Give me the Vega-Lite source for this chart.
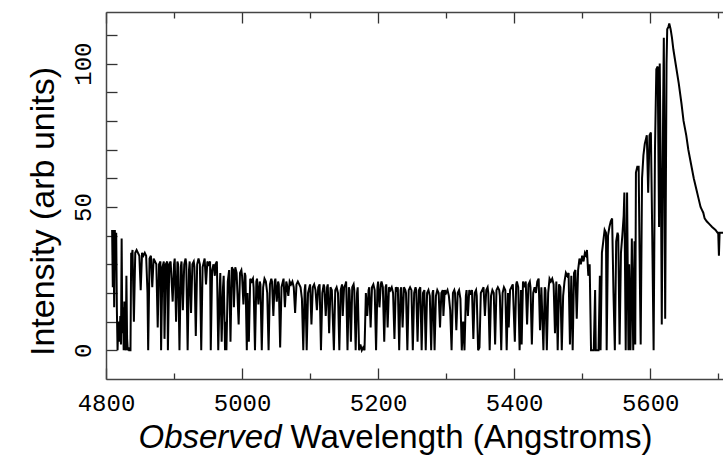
{
  "$schema": "https://vega.github.io/schema/vega-lite/v6.json",
  "width": 617,
  "height": 367,
  "autosize": "none",
  "padding": {"left": 106, "top": 12, "right": 0, "bottom": 76},
  "background": "white",
  "config": {"view": {"stroke": null}},
  "resolve": {"axis": {"x": "independent"}},
  "layer": [
    {
      "data": {"values": [
        {"w":4809,"f":42},{"w":4810,"f":22},{"w":4811,"f":42},{"w":4812,"f":15},{"w":4813,"f":42},{"w":4814,"f":28},{"w":4815,"f":41},{"w":4816,"f":14},{"w":4817,"f":0},{"w":4818,"f":9},{"w":4819,"f":10},{"w":4820,"f":3},{"w":4821,"f":12},{"w":4822,"f":2},{"w":4823,"f":39},{"w":4824,"f":6},{"w":4825,"f":15},{"w":4826,"f":0},{"w":4827,"f":17},{"w":4828,"f":5},{"w":4829,"f":0},{"w":4830,"f":26},{"w":4831,"f":4},{"w":4832,"f":0},{"w":4833,"f":1},{"w":4834,"f":0},{"w":4835,"f":0},{"w":4836,"f":0},{"w":4837,"f":34},
        {"w":4838,"f":33},{"w":4839,"f":35},{"w":4841,"f":10},{"w":4843,"f":34},{"w":4845,"f":35},{"w":4847,"f":34},{"w":4849,"f":33},{"w":4851,"f":21},{"w":4853,"f":34},{"w":4855,"f":33},{"w":4857,"f":34},{"w":4859,"f":33},{"w":4861,"f":20},{"w":4862,"f":0},{"w":4864,"f":32},{"w":4866,"f":33},{"w":4868,"f":22},{"w":4870,"f":32},{"w":4872,"f":31},{"w":4874,"f":30},{"w":4876,"f":8},{"w":4878,"f":30},{"w":4880,"f":31},{"w":4881,"f":0},{"w":4883,"f":29},{"w":4885,"f":31},{"w":4886,"f":4},{"w":4888,"f":30},{"w":4890,"f":31},{"w":4891,"f":0},{"w":4893,"f":30},{"w":4895,"f":31},{"w":4898,"f":17},{"w":4900,"f":30},{"w":4901,"f":32},{"w":4903,"f":10},{"w":4905,"f":31},{"w":4906,"f":30},{"w":4908,"f":0},{"w":4910,"f":29},{"w":4911,"f":31},{"w":4913,"f":14},{"w":4915,"f":30},{"w":4917,"f":32},{"w":4918,"f":30},{"w":4920,"f":0},{"w":4922,"f":28},{"w":4923,"f":31},{"w":4925,"f":13},{"w":4927,"f":30},{"w":4929,"f":31},{"w":4930,"f":29},{"w":4932,"f":5},{"w":4934,"f":30},{"w":4936,"f":32},{"w":4938,"f":30},{"w":4940,"f":0},{"w":4942,"f":29},{"w":4944,"f":31},{"w":4945,"f":32},{"w":4947,"f":23},{"w":4949,"f":31},{"w":4951,"f":30},{"w":4953,"f":31},{"w":4954,"f":0},{"w":4956,"f":28},{"w":4958,"f":30},{"w":4960,"f":26},{"w":4961,"f":30},{"w":4963,"f":31},
        {"w":4965,"f":0},{"w":4967,"f":20},{"w":4968,"f":27},{"w":4970,"f":3},{"w":4972,"f":22},{"w":4973,"f":26},{"w":4975,"f":0},{"w":4976,"f":10},{"w":4977,"f":0},{"w":4979,"f":24},{"w":4981,"f":28},{"w":4983,"f":3},{"w":4985,"f":29},{"w":4987,"f":28},{"w":4988,"f":15},{"w":4990,"f":29},{"w":4992,"f":27},{"w":4995,"f":9},{"w":4997,"f":27},{"w":4999,"f":28},{"w":5000,"f":26},{"w":5002,"f":16},{"w":5004,"f":27},{"w":5005,"f":26},{"w":5007,"f":0},{"w":5008,"f":20},{"w":5010,"f":3},{"w":5012,"f":25},{"w":5014,"f":24},{"w":5016,"f":25},{"w":5017,"f":22},{"w":5019,"f":0},{"w":5021,"f":24},{"w":5022,"f":25},{"w":5024,"f":16},{"w":5026,"f":24},{"w":5027,"f":23},{"w":5029,"f":0},{"w":5031,"f":22},{"w":5033,"f":25},{"w":5035,"f":24},{"w":5037,"f":20},{"w":5039,"f":0},{"w":5041,"f":23},{"w":5043,"f":25},{"w":5044,"f":24},{"w":5046,"f":12},{"w":5048,"f":24},{"w":5049,"f":25},{"w":5051,"f":17},{"w":5053,"f":24},{"w":5054,"f":23},{"w":5056,"f":1},{"w":5058,"f":22},{"w":5060,"f":24},{"w":5061,"f":25},{"w":5063,"f":15},{"w":5065,"f":24},{"w":5066,"f":23},{"w":5068,"f":19},{"w":5070,"f":24},{"w":5072,"f":23},{"w":5074,"f":24},{"w":5076,"f":22},{"w":5078,"f":13},{"w":5080,"f":23},{"w":5082,"f":24},{"w":5084,"f":23},{"w":5086,"f":22},{"w":5088,"f":18},{"w":5090,"f":0},{"w":5092,"f":21},{"w":5093,"f":23},{"w":5095,"f":0},{"w":5097,"f":20},{"w":5099,"f":22},{"w":5100,"f":23},{"w":5102,"f":9},{"w":5104,"f":22},{"w":5106,"f":23},{"w":5108,"f":21},{"w":5110,"f":14},{"w":5112,"f":22},{"w":5114,"f":23},
        {"w":5116,"f":0},{"w":5118,"f":20},{"w":5120,"f":23},{"w":5121,"f":22},{"w":5123,"f":12},{"w":5125,"f":22},{"w":5126,"f":23},{"w":5128,"f":6},{"w":5130,"f":22},{"w":5132,"f":21},{"w":5135,"f":0},{"w":5137,"f":21},{"w":5139,"f":22},{"w":5141,"f":20},{"w":5143,"f":0},{"w":5145,"f":21},{"w":5147,"f":23},{"w":5148,"f":12},{"w":5150,"f":22},{"w":5152,"f":23},{"w":5153,"f":24},{"w":5155,"f":0},{"w":5157,"f":22},{"w":5158,"f":21},{"w":5160,"f":3},{"w":5162,"f":22},{"w":5164,"f":23},{"w":5165,"f":21},{"w":5167,"f":0},{"w":5169,"f":20},{"w":5170,"f":22},{"w":5172,"f":0},{"w":5174,"f":2},{"w":5176,"f":0},{"w":5178,"f":1},{"w":5180,"f":0},{"w":5182,"f":20},{"w":5184,"f":12},{"w":5186,"f":21},{"w":5187,"f":22},{"w":5189,"f":8},{"w":5191,"f":22},{"w":5193,"f":23},{"w":5195,"f":21},{"w":5197,"f":0},{"w":5199,"f":22},{"w":5200,"f":24},{"w":5202,"f":15},{"w":5204,"f":23},{"w":5205,"f":24},{"w":5207,"f":22},{"w":5209,"f":3},{"w":5211,"f":22},{"w":5212,"f":23},{"w":5214,"f":8},{"w":5216,"f":22},{"w":5218,"f":21},{"w":5220,"f":22},{"w":5222,"f":20},{"w":5224,"f":4},{"w":5226,"f":22},{"w":5228,"f":21},{"w":5229,"f":22},{"w":5231,"f":0},{"w":5233,"f":21},{"w":5234,"f":22},{"w":5236,"f":8},{"w":5238,"f":22},{"w":5240,"f":21},{"w":5241,"f":20},{"w":5243,"f":0},{"w":5245,"f":21},{"w":5247,"f":22},{"w":5249,"f":21},{"w":5251,"f":0},{"w":5253,"f":20},{"w":5255,"f":22},{"w":5256,"f":21},{"w":5258,"f":3},{"w":5260,"f":21},{"w":5262,"f":22},{"w":5264,"f":0},
        {"w":5266,"f":20},{"w":5268,"f":21},{"w":5270,"f":0},{"w":5272,"f":20},{"w":5274,"f":21},{"w":5276,"f":19},{"w":5278,"f":0},{"w":5280,"f":20},{"w":5281,"f":21},{"w":5283,"f":0},{"w":5285,"f":19},{"w":5287,"f":21},{"w":5289,"f":20},{"w":5291,"f":8},{"w":5293,"f":20},{"w":5295,"f":21},{"w":5296,"f":12},{"w":5298,"f":21},{"w":5300,"f":20},{"w":5302,"f":21},{"w":5304,"f":19},{"w":5306,"f":14},{"w":5308,"f":0},{"w":5310,"f":20},{"w":5312,"f":21},{"w":5313,"f":20},{"w":5315,"f":7},{"w":5317,"f":20},{"w":5319,"f":21},{"w":5321,"f":18},{"w":5323,"f":0},{"w":5325,"f":10},{"w":5327,"f":0},{"w":5329,"f":19},{"w":5330,"f":21},{"w":5332,"f":12},{"w":5334,"f":21},{"w":5336,"f":20},{"w":5338,"f":21},{"w":5340,"f":4},{"w":5342,"f":20},{"w":5344,"f":21},{"w":5345,"f":19},{"w":5347,"f":0},{"w":5349,"f":1},{"w":5351,"f":20},{"w":5353,"f":21},{"w":5355,"f":22},{"w":5357,"f":12},{"w":5359,"f":21},{"w":5361,"f":22},{"w":5362,"f":20},{"w":5364,"f":0},{"w":5366,"f":19},{"w":5368,"f":21},{"w":5370,"f":20},{"w":5372,"f":2},{"w":5374,"f":21},{"w":5376,"f":22},{"w":5378,"f":21},{"w":5379,"f":19},{"w":5381,"f":0},{"w":5383,"f":20},{"w":5385,"f":22},{"w":5387,"f":21},{"w":5389,"f":0},{"w":5391,"f":20},{"w":5392,"f":8},{"w":5394,"f":21},{"w":5396,"f":22},{"w":5398,"f":23},{"w":5401,"f":3},{"w":5403,"f":23},{"w":5404,"f":24},{"w":5406,"f":22},{"w":5408,"f":0},{"w":5410,"f":21},{"w":5411,"f":2},
        {"w":5413,"f":24},{"w":5415,"f":22},{"w":5417,"f":24},{"w":5419,"f":9},{"w":5421,"f":23},{"w":5423,"f":24},{"w":5424,"f":22},{"w":5426,"f":2},{"w":5428,"f":20},{"w":5430,"f":22},{"w":5432,"f":20},{"w":5434,"f":24},{"w":5436,"f":25},{"w":5438,"f":7},{"w":5440,"f":22},{"w":5443,"f":0},{"w":5445,"f":22},{"w":5446,"f":21},{"w":5448,"f":0},{"w":5450,"f":20},{"w":5452,"f":25},{"w":5454,"f":24},{"w":5456,"f":25},{"w":5458,"f":23},{"w":5460,"f":6},{"w":5462,"f":24},{"w":5464,"f":0},{"w":5466,"f":23},{"w":5468,"f":22},{"w":5470,"f":0},{"w":5472,"f":19},{"w":5474,"f":24},{"w":5476,"f":27},{"w":5478,"f":26},{"w":5480,"f":27},{"w":5482,"f":2},{"w":5484,"f":26},{"w":5486,"f":0},{"w":5488,"f":27},{"w":5490,"f":28},{"w":5492,"f":11},{"w":5494,"f":28},{"w":5496,"f":32},{"w":5498,"f":30},{"w":5500,"f":33},{"w":5502,"f":31},{"w":5504,"f":34},{"w":5506,"f":33},{"w":5507,"f":35},{"w":5509,"f":26},{"w":5511,"f":30},{"w":5513,"f":0},{"w":5515,"f":0},{"w":5517,"f":0},{"w":5519,"f":21},{"w":5520,"f":0},{"w":5522,"f":0},{"w":5524,"f":0},{"w":5526,"f":26},{"w":5527,"f":0},{"w":5529,"f":34},{"w":5531,"f":38},{"w":5533,"f":42},{"w":5535,"f":41},{"w":5536,"f":0},{"w":5538,"f":40},{"w":5540,"f":43},{"w":5542,"f":45},{"w":5544,"f":46},{"w":5546,"f":20},{"w":5548,"f":0},{"w":5550,"f":38},{"w":5552,"f":41},{"w":5553,"f":40},{"w":5555,"f":2},{"w":5557,"f":34},{"w":5559,"f":40},{"w":5561,"f":47},{"w":5562,"f":55},{"w":5564,"f":0},
        {"w":5566,"f":55},{"w":5568,"f":0},{"w":5569,"f":30},{"w":5571,"f":0},{"w":5573,"f":39},{"w":5575,"f":0},{"w":5577,"f":38},{"w":5578,"f":2},{"w":5579,"f":62},{"w":5581,"f":64},{"w":5583,"f":64},{"w":5585,"f":20},{"w":5586,"f":2},{"w":5588,"f":60},{"w":5590,"f":68},{"w":5592,"f":72},{"w":5594,"f":74},{"w":5595,"f":75},{"w":5597,"f":55},{"w":5599,"f":75},{"w":5601,"f":76},{"w":5603,"f":40},{"w":5605,"f":0},{"w":5607,"f":70},{"w":5609,"f":98},{"w":5611,"f":99},{"w":5613,"f":43},{"w":5614,"f":100},{"w":5616,"f":50},{"w":5617,"f":9},{"w":5619,"f":85},{"w":5620,"f":109},{"w":5622,"f":11},{"w":5624,"f":100},{"w":5625,"f":112},{"w":5627,"f":113},{"w":5628,"f":114},{"w":5630,"f":112},{"w":5632,"f":109},{"w":5634,"f":105},{"w":5638,"f":99},{"w":5642,"f":93},{"w":5646,"f":86},{"w":5649,"f":80},{"w":5653,"f":75},{"w":5656,"f":70},{"w":5660,"f":65},{"w":5664,"f":60},{"w":5668,"f":56},{"w":5671,"f":53},{"w":5674,"f":50},{"w":5676,"f":49},{"w":5678,"f":48},{"w":5680,"f":46},{"w":5683,"f":45},{"w":5687,"f":44},{"w":5691,"f":43},{"w":5696,"f":42},{"w":5699,"f":41},{"w":5700,"f":41},{"w":5701,"f":33},{"w":5702,"f":41},{"w":5705,"f":41},{"w":5707,"f":41}
      ]},
      "mark": {"type": "line", "color": "black", "strokeWidth": 2, "clip": true},
      "encoding": {
        "x": {
          "field": "w", "type": "quantitative",
          "scale": {"domain": [4800, 5707], "nice": false, "zero": false},
          "axis": {
            "orient": "bottom",
            "values": [4800, 4900, 5000, 5100, 5200, 5300, 5400, 5500, 5600, 5700],
            "format": "d",
            "tickSize": {"condition": {"test": "datum.value % 200 === 0", "value": -11}, "value": -6},
            "labelExpr": "datum.value % 200 === 0 ? datum.label : ''",
            "labelFont": "Liberation Mono", "labelFontSize": 24, "labelColor": "black",
            "labelBaseline": "alphabetic", "labelPadding": 42, "labelFlush": false, "labelOverlap": false,
            "grid": false, "domainColor": "#444", "domainWidth": 1.5, "tickColor": "#333", "tickWidth": 1.3,
            "title": "Wavelength (Angstroms)", "titleFont": "Liberation Sans", "titleFontSize": 33,
            "titleFontWeight": "normal", "titleColor": "black", "titleX": 184, "titleY": 68,
            "titleAlign": "left", "titleBaseline": "alphabetic", "titleAngle": 0
          }
        },
        "y": {
          "field": "f", "type": "quantitative",
          "scale": {"domain": [-10, 118], "nice": false, "zero": false},
          "axis": {
            "orient": "left",
            "values": [0, 10, 20, 30, 40, 50, 60, 70, 80, 90, 100, 110],
            "tickSize": -11,
            "labelExpr": "datum.value % 50 === 0 ? datum.label : ''",
            "labelFont": "Liberation Mono", "labelFontSize": 24, "labelColor": "black",
            "labelAngle": 270, "labelAlign": "center", "labelBaseline": "alphabetic", "labelPadding": 27,
            "labelFlush": false, "labelOverlap": false,
            "grid": false, "domainColor": "#444", "domainWidth": 1.5, "tickColor": "#333", "tickWidth": 1.3,
            "title": "Intensity (arb units)", "titleFont": "Liberation Sans", "titleFontSize": 34,
            "titleFontWeight": "normal", "titleColor": "black", "titleX": -53, "titleY": 199,
            "titleAngle": 270, "titleAlign": "center", "titleBaseline": "alphabetic"
          }
        }
      }
    },
    {
      "data": {"values": [{"w": 4800}]},
      "mark": {"type": "point", "opacity": 0},
      "encoding": {
        "x": {
          "field": "w", "type": "quantitative",
          "scale": {"domain": [4800, 5707], "nice": false, "zero": false},
          "axis": {
            "orient": "top",
            "values": [4800, 4900, 5000, 5100, 5200, 5300, 5400, 5500, 5600, 5700],
            "tickSize": {"condition": {"test": "datum.value % 200 === 0", "value": -11}, "value": -6},
            "labels": false,
            "grid": false, "domainColor": "#444", "domainWidth": 1.5, "tickColor": "#333", "tickWidth": 1.3,
            "title": "Observed", "titleFont": "Liberation Sans", "titleFontSize": 33, "titleFontStyle": "italic",
            "titleFontWeight": "normal", "titleColor": "black", "titleX": 32, "titleY": 435,
            "titleAlign": "left", "titleBaseline": "alphabetic", "titleAngle": 0
          }
        }
      }
    }
  ]
}
